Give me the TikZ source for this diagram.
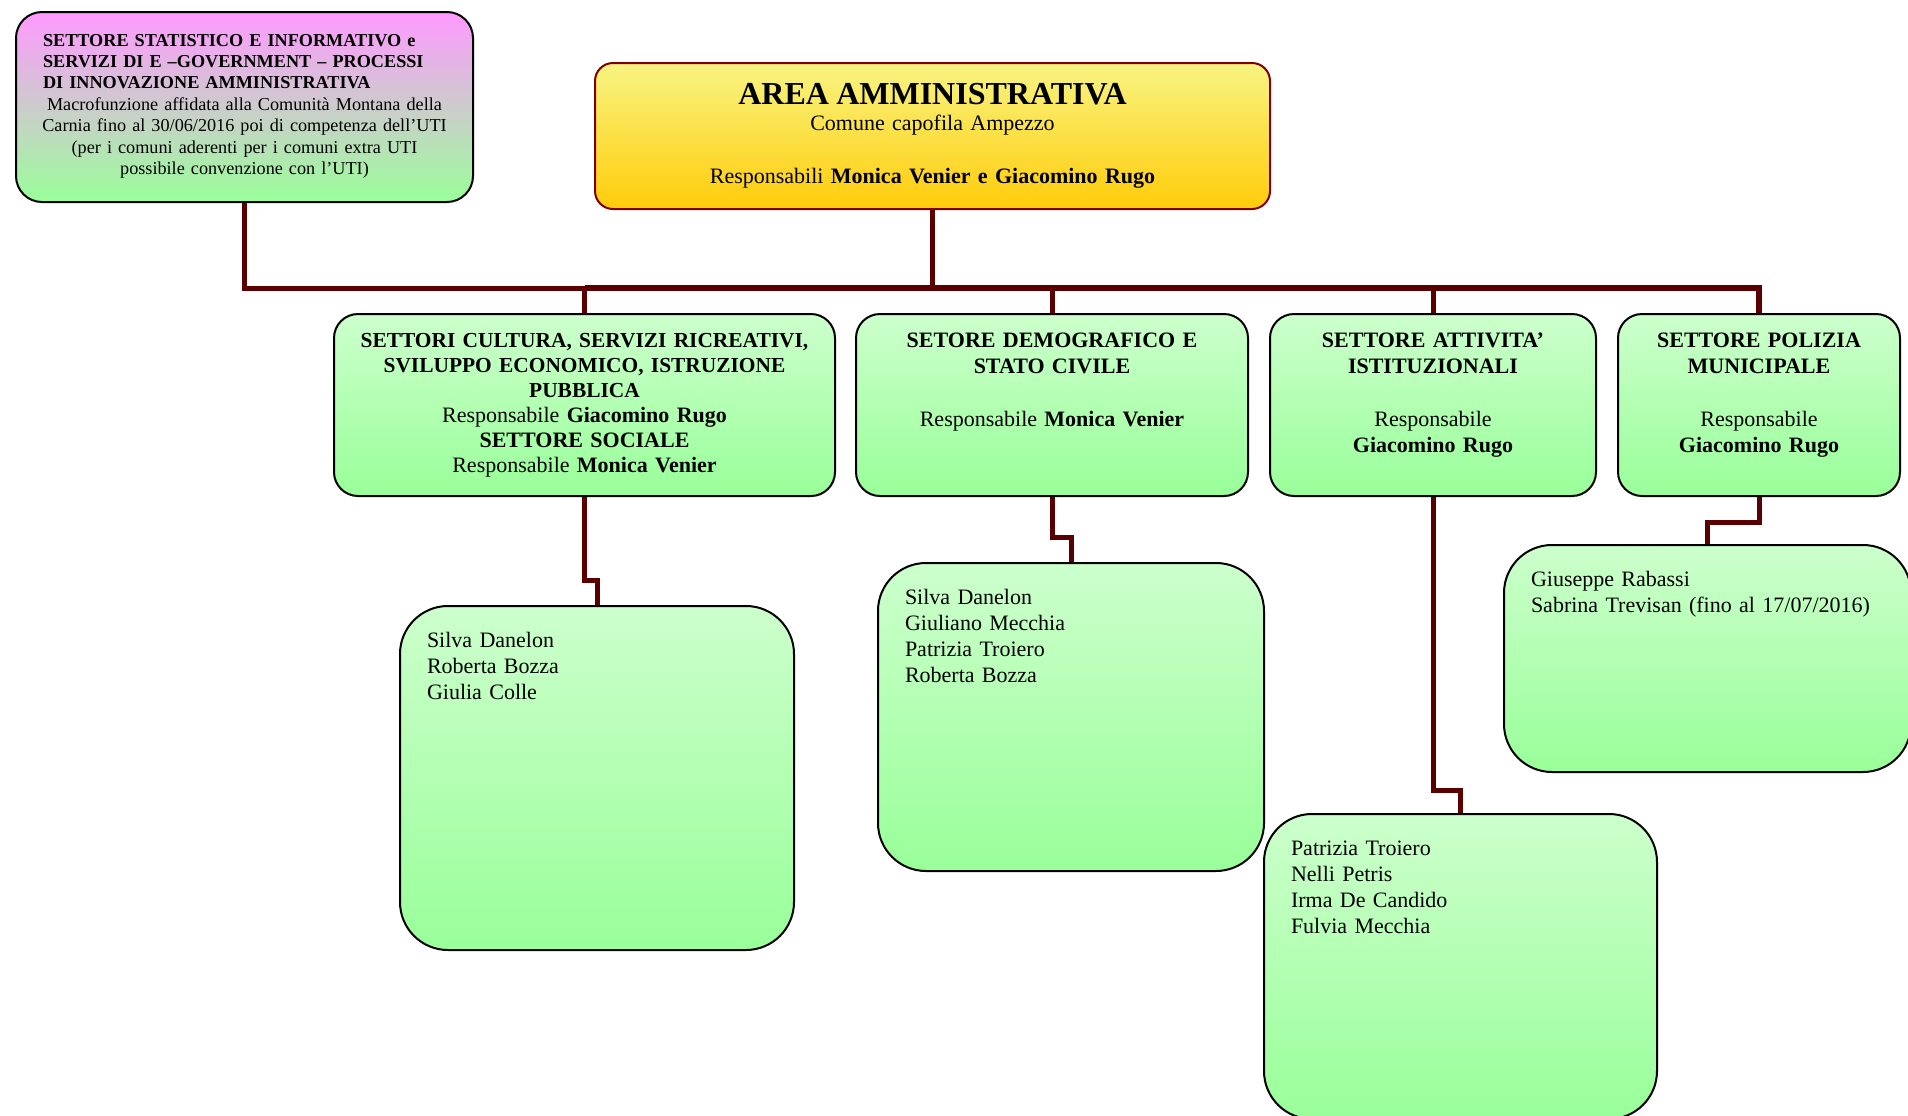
\documentclass[tikz,border=0pt]{standalone}
\usepackage{fontspec}
\setmainfont{Liberation Serif}
\definecolor{greenTop}{RGB}{204,255,204}
\definecolor{greenBot}{RGB}{153,255,153}
\definecolor{pinkTop}{RGB}{255,153,255}
\definecolor{yellowTop}{RGB}{248,244,130}
\definecolor{yellowBot}{RGB}{255,204,10}
\definecolor{areaBorder}{RGB}{128,0,0}
\definecolor{linkRed}{RGB}{90,0,0}
\begin{document}
\begin{tikzpicture}[
    x=0.5pt, y=-0.5pt,
    every node/.style={text=black, font=\fontsize{11}{13.2}\selectfont},
    box/.style={draw=black, line width=1pt, anchor=north west, inner sep=0pt, top color=greenTop, bottom color=greenBot},
    sector/.style={box, rounded corners=12pt, align=center, text height=16.5pt, text depth=74.5pt},
    staff/.style={box, rounded corners=24pt, align=left, inner xsep=13.5pt, text height=20.5pt, font=\fontsize{11}{13}\selectfont},
    link/.style={draw=linkRed, line width=2.5pt}
]
    \useasboundingbox (0,0) rectangle (1908,1115);

    \node[box, draw=areaBorder, rounded corners=9pt, top color=yellowTop, bottom color=yellowBot,
        align=center, text width=337.5pt, text height=20.7pt, text depth=52.3pt] (area) at (594,62)
        {{\fontsize{16}{18}\selectfont\bfseries AREA AMMINISTRATIVA}\\
         Comune capofila Ampezzo\\[13pt]
         Responsabili \textbf{Monica Venier e Giacomino Rugo}};

    \node[box, rounded corners=13pt, top color=pinkTop, bottom color=greenBot, align=center,
        text width=215pt, inner xsep=6.75pt, text height=17pt, text depth=78pt,
        font=\fontsize{9.1}{10.7}\selectfont] (stat) at (15,11)
        {{\leftskip=6.75pt\rightskip=0pt plus 1fil\bfseries
          SETTORE STATISTICO E INFORMATIVO e\\
          SERVIZI DI E –GOVERNMENT – PROCESSI\\
          DI INNOVAZIONE AMMINISTRATIVA\par}
         Macrofunzione affidata alla Comunità Montana della\\
         Carnia fino al 30/06/2016 poi di competenza dell’UTI\\
         (per i comuni aderenti per i comuni extra UTI\\
         possibile convenzione con l’UTI)};

    \node[sector, text width=250.5pt, font=\fontsize{11}{12.5}\selectfont] (cult) at (333,313)
        {{\fontsize{10.7}{12.5}\selectfont\bfseries SETTORI CULTURA, SERVIZI RICREATIVI,\\
          SVILUPPO ECONOMICO, ISTRUZIONE\\
          PUBBLICA}\\
         Responsabile \textbf{Giacomino Rugo}\\
         \textbf{SETTORE SOCIALE}\\
         Responsabile \textbf{Monica Venier}};
    \node[sector, text width=196pt] (demo) at (855,313)
        {{\bfseries SETORE DEMOGRAFICO E\\ STATO CIVILE}\\[13.2pt]
         Responsabile \textbf{Monica Venier}};
    \node[sector, text width=163pt] (ist) at (1269,313)
        {{\bfseries SETTORE ATTIVITA’\\ ISTITUZIONALI}\\[13.2pt]
         Responsabile\\ \textbf{Giacomino Rugo}};
    \node[sector, text width=141pt] (pol) at (1617,313)
        {{\bfseries SETTORE POLIZIA\\ MUNICIPALE}\\[13.2pt]
         Responsabile\\ \textbf{Giacomino Rugo}};

    \node[staff, text width=170pt, text depth=151.5pt] (cultstaff) at (399,605)
        {Silva Danelon\\ Roberta Bozza\\ Giulia Colle};
    \node[staff, text width=166pt, text depth=133.5pt] (demostaff) at (877,562)
        {Silva Danelon\\ Giuliano Mecchia\\ Patrizia Troiero\\ Roberta Bozza};
    \node[staff, text width=169.5pt, text depth=132pt] (iststaff) at (1263,813)
        {Patrizia Troiero\\ Nelli Petris\\ Irma De Candido\\ Fulvia Mecchia};
    \node[staff, text width=176.5pt, text depth=93pt] (polstaff) at (1503,544)
        {Giuseppe Rabassi\\ Sabrina Trevisan (fino al 17/07/2016)};

    \coordinate (bus) at (0,288);
    \draw[link] (area.south) -- (area.south |- bus);
    \draw[link] (stat.south) |- (cult.north |- bus) -- (cult.north);
    \draw[link, line width=3.25pt] (cult.north |- bus) -- (pol.north |- bus) -- (pol.north);
    \draw[link] (demo.north |- bus) -- (demo.north);
    \draw[link] (ist.north |- bus) -- (ist.north);

    \draw[link] (cult.south) -- ++(0,83) -| (cultstaff.north);
    \draw[link] (demo.south) -- ++(0,40) -| (demostaff.north);
    \draw[link] (ist.south) -- ++(0,293) -| (iststaff.north);
    \draw[link] (pol.south) -- ++(0,25) -| (polstaff.north);
\end{tikzpicture}
\end{document}
